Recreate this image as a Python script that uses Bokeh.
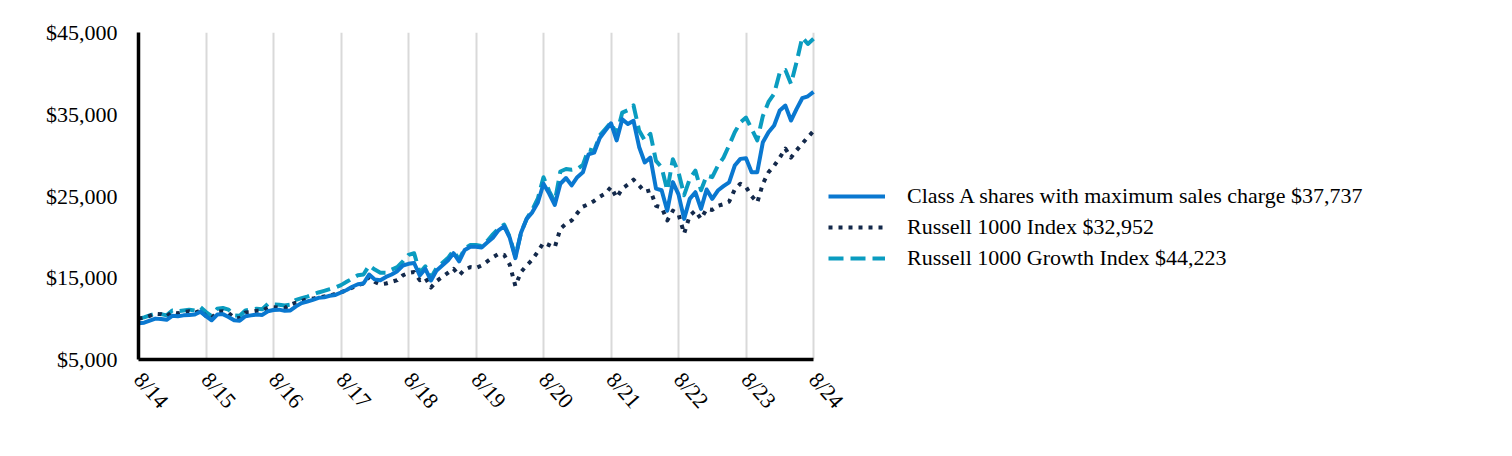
from bokeh.plotting import figure
from bokeh.models import Range1d, FixedTicker, NumeralTickFormatter, Legend, LegendItem, ColumnDataSource
from bokeh.embed import file_html
from bokeh.resources import INLINE

# ---- data (growth of $10,000, monthly 8/14 .. 8/24) ----
tick_labels = ["8/14", "8/15", "8/16", "8/17", "8/18", "8/19", "8/20", "8/21", "8/22", "8/23", "8/24"]
months = list(range(121))

class_a = [
    9425, 9500, 9750, 10000, 9950, 9850, 10350, 10300, 10400, 10450, 10500, 10850, 10300,
    9800, 10500, 10550, 10200, 9800, 9750, 10300, 10400, 10500, 10450, 10900, 11050,
    11100, 10950, 11000, 11500, 11900, 12100, 12300, 12550, 12600, 12800, 12900, 13200,
    13500, 13900, 14200, 14300, 15400, 14800, 14700, 15100, 15400, 15800, 16500, 16700,
    16800, 15270, 16090, 14660, 15900, 16500, 17100, 18000, 17000, 18400, 18800, 18800,
    18700, 19300, 19900, 20800, 21300, 19900, 17400, 20500, 22200, 23000, 24200, 26500,
    25300, 23900, 26500, 27200, 26300, 27300, 27900, 30100, 30300, 32100, 33000, 33900,
    31800, 34400, 33800, 34200, 31000, 29100, 29700, 25900, 25700, 23200, 26700, 25200,
    22200, 24650, 25460, 23430, 25790, 24650, 25670, 26200, 26680, 28720, 29540, 29620,
    27910, 27910, 31580, 32800, 33620, 35450, 36060, 34230, 35660, 36960, 37200, 37737,
]

russell_1000 = [
    10000, 10100, 10350, 10600, 10550, 10300, 10800, 10650, 10800, 10900, 10700, 11000, 10300,
    10050, 10850, 10900, 10700, 10100, 10050, 10750, 10800, 10950, 10950, 11350, 11400,
    11350, 11300, 11700, 11950, 12150, 12400, 12450, 12600, 12700, 12800, 13050, 13200,
    13500, 13800, 14100, 14300, 15100, 14500, 14200, 14300, 14500, 14700, 15300, 15600,
    15700, 14700, 15000, 13800, 14600, 15100, 15600, 16100, 15300, 16000, 16300, 16200,
    16500, 17000, 17500, 17900, 17800, 16600, 14000, 15700, 16500, 17200, 18200, 19300,
    19000, 18700, 21000, 21600, 22000, 22900, 23700, 24000, 24400, 24900, 25300, 26100,
    24800, 25900, 26400, 27000, 26300, 25500, 25700, 23800, 23600, 22000, 23200, 22800,
    20400, 22600, 23200, 22200, 23400, 23300, 23800, 24000, 24300, 25800, 26500, 26100,
    25000, 24200, 26500, 27900, 28700, 29700, 30800, 29700, 30600, 31400, 32200, 32952,
]

russell_1000_growth = [
    10000, 10150, 10400, 10600, 10550, 10400, 11000, 10900, 11000, 11100, 11000, 11400, 10800,
    10300, 11200, 11300, 11100, 10400, 10350, 11000, 11100, 11200, 11150, 11800, 11750,
    11700, 11600, 11700, 12300, 12500, 12700, 12950, 13200, 13400, 13600, 13800, 14100,
    14500, 14900, 15300, 15400, 16500, 16000, 15600, 15600, 16000, 16300, 17000, 17800,
    18000, 15600, 16400, 15000, 16200, 16800, 17400, 18300, 17200, 18600, 19000, 19000,
    18900, 19500, 20300, 21000, 21500, 20000, 17600, 20500, 22200, 23300, 24700, 27300,
    25600, 24300, 28000, 28300, 28200, 28300, 28800, 30700, 30500, 32400, 33200, 34000,
    32500, 35200, 35500, 36100, 33000, 31800, 32600, 29300, 28500, 25700, 29500, 27900,
    25100, 27100, 28100, 25700, 27500, 27300, 28700, 29700, 31200, 32800, 34000, 34600,
    33200, 31800, 34800, 36500, 37500, 40100, 40400, 38700, 41400, 44400, 43600, 44223,
]

series_labels = [
    "Class A shares with maximum sales charge $37,737",
    "Russell 1000 Index $32,952",
    "Russell 1000 Growth Index $44,223",
]
y_ticks = [5000, 15000, 25000, 35000, 45000]
year_ticks = [12 * i for i in range(len(tick_labels))]

FONT = "Liberation Serif"

# layout: plot area spans x=138..813 px; the frame runs on to the right edge
# so the legend can sit inside it; axis and grid are bounded to the data span
LEFT, RIGHT_DATA, W = 138, 813, 1512
x_end = 120 * (W - LEFT) / (RIGHT_DATA - LEFT)

source = ColumnDataSource(dict(m=months, a=class_a, r=russell_1000, g=russell_1000_growth))

p = figure(width=W, height=456, output_backend="svg", toolbar_location=None,
           x_range=Range1d(0, x_end), y_range=Range1d(5000, 45000),
           min_border_left=LEFT, min_border_right=0, min_border_top=32, min_border_bottom=97)
p.outline_line_color = None
p.background_fill_color = "white"
p.border_fill_color = "white"

# grid
p.ygrid.visible = False
p.xgrid.grid_line_color = "#d9d9d9"
p.xgrid.grid_line_width = 2

# axes
for ax in (p.xaxis[0], p.yaxis[0]):
    ax.axis_line_color = "black"
    ax.axis_line_width = 3.5
    ax.major_tick_line_color = None
    ax.major_tick_out = 0
    ax.major_tick_in = 0
    ax.minor_tick_line_color = None
    ax.major_label_text_font = FONT
    ax.major_label_text_font_size = "22px"
    ax.major_label_text_color = "black"

p.yaxis.ticker = FixedTicker(ticks=y_ticks)
p.yaxis.formatter = NumeralTickFormatter(format="$0,0")
p.yaxis.major_label_standoff = 21

p.xaxis.ticker = FixedTicker(ticks=year_ticks)
p.xaxis.bounds = (0, 120)
p.xaxis.major_label_overrides = {t: lab for t, lab in zip(year_ticks, tick_labels)}
p.xaxis.major_label_orientation = -0.85
p.xaxis.major_label_standoff = 16

# lines
r_g = p.line("m", "g", source=source, line_color="#0a9cc0", line_width=4,
             line_dash="15 7", line_cap="butt", line_join="round")
r_r = p.line("m", "r", source=source, line_color="#13294b", line_width=4,
             line_dash="4 6", line_cap="butt", line_join="round")
r_a = p.line("m", "a", source=source, line_color="#0a78d0", line_width=4,
             line_join="round")

legend = Legend(items=[
    LegendItem(label=series_labels[0], renderers=[r_a]),
    LegendItem(label=series_labels[1], renderers=[r_r]),
    LegendItem(label=series_labels[2], renderers=[r_g]),
], location=(690, 88), orientation="vertical")
legend.border_line_color = None
legend.background_fill_alpha = 0
legend.label_text_font = FONT
legend.label_text_font_size = "22px"
legend.label_text_color = "black"
legend.glyph_width = 57
legend.glyph_height = 20
legend.label_height = 20
legend.label_standoff = 22
legend.spacing = 5
legend.padding = 0
legend.margin = 0
p.add_layout(legend)

open("out.html", "w").write(file_html(p, INLINE))
